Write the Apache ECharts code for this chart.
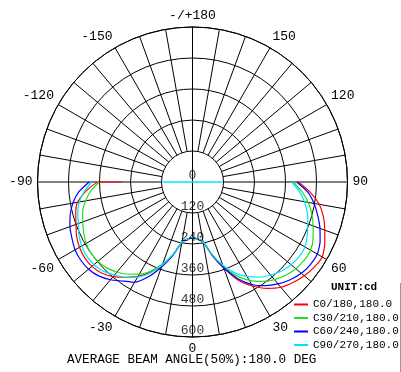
<!DOCTYPE html>
<html>
<head>
<meta charset="utf-8">
<script src="https://cdn.jsdelivr.net/npm/echarts@6/dist/echarts.min.js"></script>
<style>html,body{margin:0;padding:0;background:#fff}#c{width:401px;height:372px}</style>
</head>
<body>
<div id="c"></div>
<script>
// gamma angles (deg), 0 = nadir (bottom)
const gammaDeg = [-90,-85,-80,-75,-70,-65,-60,-55,-50,-45,-40,-35,-30,-25,-20,-15,-10,-5,0,5,10,15,20,25,30,35,40,45,50,55,60,65,70,75,80,85,90];
// candela values per C-plane
const c0_180  = [361,415,452,468,480,495,505,510,508,498,478,450,422,385,340,290,237,222,216,222,235,295,355,420,465,503,532,550,565,575,580,565,545,525,498,458,410];
const c30_210 = [361,395,420,440,452,465,475,480,478,470,455,436,412,380,338,290,237,222,216,222,235,290,348,400,440,470,493,510,522,528,528,515,497,478,455,425,390];
const c60_240 = [400,442,470,490,505,515,525,528,525,514,494,468,448,405,350,295,237,222,216,222,235,292,352,412,458,490,515,535,550,557,558,545,525,502,478,448,403];
const c90_270 = [390,420,445,460,470,485,495,500,498,488,470,450,425,390,342,290,237,222,216,222,235,290,343,388,422,450,470,487,498,504,503,490,475,460,440,415,384];
const c0LeadInCd = 275;          // red trace starts on the -90 line
const centerLineCd = [116, 116]; // cyan segment across the centre
const centerLineDeg = [-90, 90];
const seriesNames = ['C0/180,180.0','C30/210,180.0','C60/240,180.0','C90/270,180.0'];
const seriesColors = ['#ff0000','#22dd22','#0000ff','#00e5ff'];
const radiusTicks = [0,120,240,360,480,600];

const FONT = '"Liberation Mono", "Courier New", monospace';
const CX = 192.5, CY = 182, R = 155;

function pairs(vals){ return vals.map((v,i)=>[v, gammaDeg[i]]); }
const allData = [c0_180, c30_210, c60_240, c90_270].map(pairs);
allData[0].unshift([c0LeadInCd, -90]);

const chart = echarts.init(document.getElementById('c'), null, {renderer:'canvas'});
const lineSeries = allData.map((d,i)=>({
  name: seriesNames[i], type:'line', coordinateSystem:'polar', polarIndex:1,
  data:d, symbol:'none', smooth:0.2,
  lineStyle:{color:seriesColors[i], width:1.2}, itemStyle:{color:seriesColors[i]}, z:3
}));
lineSeries.push({
  name:'center', type:'line', coordinateSystem:'polar', polarIndex:1,
  data: centerLineCd.map((v,i)=>[v, centerLineDeg[i]]), symbol:'none',
  lineStyle:{color:seriesColors[3], width:1.5}, z:4
});
lineSeries.push({
  name:'rlabels', type:'scatter', coordinateSystem:'polar', polarIndex:1,
  data: radiusTicks.map(v=>[v,0]), symbolSize:0.1, itemStyle:{color:'transparent'},
  label:{show:true, position:'top', distance:0, color:'#000', fontFamily:FONT, fontSize:13,
    formatter:p=>String(p.value[0])}, z:5, silent:true
});

chart.setOption({
  animation:false,
  backgroundColor:'#fff',
  title:[
    {text:'AVERAGE BEAM ANGLE(50%):180.0 DEG', left:67, top:353, padding:0,
     textStyle:{fontFamily:FONT, fontSize:12.6, fontWeight:'normal', color:'#000'}},
    {text:'UNIT:cd', left:331, top:282, padding:0,
     textStyle:{fontFamily:FONT, fontSize:11, fontWeight:'bold', color:'#000'}}
  ],
  legend:{
    data:seriesNames, orient:'vertical', left:294, top:299, padding:0,
    itemWidth:14, itemHeight:2, itemGap:2.5, icon:'rect',
    textStyle:{fontFamily:FONT, fontSize:11, color:'#000'}
  },
  polar:[
    {center:[CX,CY], radius:[31,R]},
    {center:[CX,CY], radius:[0,R]},
    {center:[CX,CY], radius:[0,R]}
  ],
  angleAxis:[
    {polarIndex:0, type:'value', min:-180, max:180, interval:10, startAngle:90, clockwise:false,
     axisLine:{show:false}, axisTick:{show:false}, axisLabel:{show:false},
     splitLine:{show:true, lineStyle:{color:'#000', width:1}}},
    {polarIndex:1, type:'value', min:-180, max:180, interval:30, startAngle:90, clockwise:false,
     axisLine:{show:true, lineStyle:{color:'#000', width:1}}, axisTick:{show:false},
     splitLine:{show:false},
     axisLabel:{show:true, margin:5, color:'#000', fontFamily:FONT, fontSize:13,
       formatter:v=> v===-180 ? '-/+180' : (v===180 ? '' : String(v))}},
    {polarIndex:2, type:'value', min:-180, max:180, startAngle:270, clockwise:false,
     axisLine:{show:false}, axisTick:{show:false}, axisLabel:{show:false}, splitLine:{show:false}}
  ],
  radiusAxis:[
    {polarIndex:0, type:'value', show:false},
    {polarIndex:1, type:'value', min:0, max:600, interval:120,
     axisLine:{show:true, lineStyle:{color:'#000', width:1}}, axisTick:{show:false},
     axisLabel:{show:false}, splitLine:{show:true, lineStyle:{color:'#000', width:1}}},
    {polarIndex:2, type:'value', min:0, max:600,
     axisLine:{show:true, lineStyle:{color:'#000', width:1}}, axisTick:{show:false},
     axisLabel:{show:false}, splitLine:{show:false}}
  ],
  graphic:[
    {type:'line', shape:{x1:400.5, y1:283, x2:400.5, y2:372}, style:{stroke:'#999', lineWidth:1}}
  ],
  series:lineSeries
});
</script>
</body>
</html>
